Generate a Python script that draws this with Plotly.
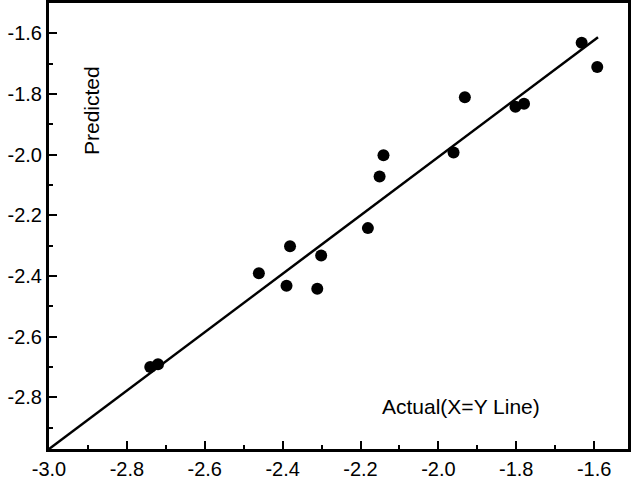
import plotly.graph_objects as go

# Data
actual = [-2.740, -2.720, -2.461, -2.381, -2.390, -2.301, -2.311, -2.181,
          -2.151, -2.141, -1.961, -1.932, -1.802, -1.780, -1.632, -1.592]
predicted = [-2.700, -2.691, -2.391, -2.302, -2.432, -2.332, -2.442, -2.242,
             -2.072, -2.002, -1.993, -1.811, -1.842, -1.832, -1.631, -1.711]

line_x = [-3.0, -1.59]
line_y = [-2.97, -1.613]

x_tickvals = [-3.0, -2.8, -2.6, -2.4, -2.2, -2.0, -1.8, -1.6]
x_ticktext = ["-3.0", "-2.8", "-2.6", "-2.4", "-2.2", "-2.0", "-1.8", "-1.6"]
y_tickvals = [-2.8, -2.6, -2.4, -2.2, -2.0, -1.8, -1.6]
y_ticktext = ["-2.8", "-2.6", "-2.4", "-2.2", "-2.0", "-1.8", "-1.6"]

FONT = "Liberation Sans, Arial, sans-serif"

fig = go.Figure()
fig.add_trace(go.Scatter(x=line_x, y=line_y, mode="lines",
                         line=dict(color="black", width=2.5), showlegend=False))
fig.add_trace(go.Scatter(x=actual, y=predicted, mode="markers",
                         marker=dict(color="black", size=12), showlegend=False))

axis_common = dict(
    showgrid=False, zeroline=False, showline=True, linecolor="black",
    linewidth=3, mirror=True, ticks="inside", ticklen=8, tickwidth=2,
    tickcolor="black", tickfont=dict(family=FONT, size=20, color="black"),
    automargin=False,
)

fig.update_xaxes(range=[-3.0, -1.513], tickvals=x_tickvals, ticktext=x_ticktext,
                 minor=dict(ticks="inside", ticklen=4, tickwidth=2, dtick=0.1,
                            tick0=-3.0, tickcolor="black"),
                 **axis_common)
fig.update_yaxes(range=[-2.97, -1.5], tickvals=y_tickvals, ticktext=y_ticktext,
                 minor=dict(ticks="inside", ticklen=4, tickwidth=2, dtick=0.1,
                            tick0=-3.0, tickcolor="black"),
                 **axis_common)

fig.add_annotation(text="Predicted", xref="paper", yref="paper", x=0.0725, y=0.76,
                   xanchor="center", yanchor="middle",
                   textangle=-90, showarrow=False,
                   font=dict(family=FONT, size=21, color="black"))
fig.add_annotation(text="Actual(X=Y Line)", xref="paper", yref="paper", x=0.712, y=0.095,
                   xanchor="center", yanchor="middle",
                   showarrow=False, font=dict(family=FONT, size=21, color="black"))

fig.update_layout(width=636, height=479, margin=dict(l=49, r=8, t=3, b=30),
                  plot_bgcolor="white", paper_bgcolor="white")

fig.write_html("out.html", config={"displayModeBar": False},
               post_script="document.body.style.margin='0';"
                           "document.body.style.overflow='hidden';")
